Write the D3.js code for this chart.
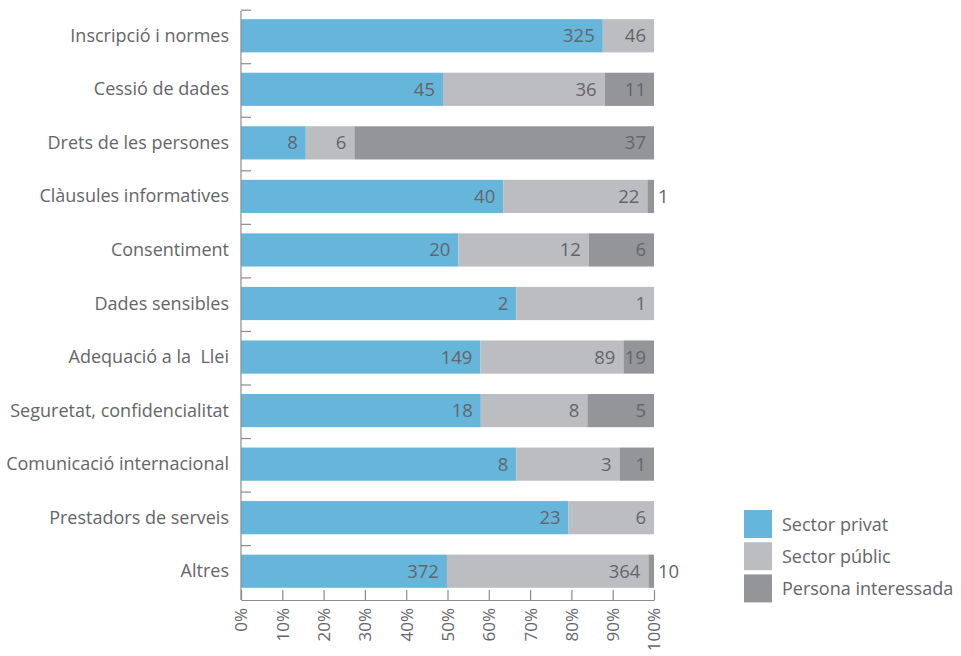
<!DOCTYPE html>
<html>
<head>
<meta charset="utf-8">
<script src="https://cdn.jsdelivr.net/npm/d3@7"></script>
<style>
  body { margin: 0; background: #fff; }
  text { font-family: "Open Sans", sans-serif; fill: #646569; }
</style>
</head>
<body>
<svg id="chart" width="961" height="656"></svg>
<script>
var categories = [
  "Inscripció i normes", "Cessió de dades", "Drets de les persones",
  "Clàusules informatives", "Consentiment", "Dades sensibles",
  "Adequació a la  Llei", "Seguretat, confidencialitat",
  "Comunicació internacional", "Prestadors de serveis", "Altres"
];
var privat = [325, 45, 8, 40, 20, 2, 149, 18, 8, 23, 372];
var public_ = [46, 36, 6, 22, 12, 1, 89, 8, 3, 6, 364];
var interessada = [0, 11, 37, 1, 6, 0, 19, 5, 1, 0, 10];
var seriesNames = ["Sector privat", "Sector públic", "Persona interessada"];
var seriesColors = ["#66b6dc", "#bcbdc1", "#939598"];
var tickValues = [0, 10, 20, 30, 40, 50, 60, 70, 80, 90, 100];

var svg = d3.select("#chart");
var plotLeft = 241, plotRight = 654, plotTop = 11, plotBottom = 600;

var x = d3.scaleLinear().domain([0, 100]).range([plotLeft, plotRight]);
var y = d3.scaleBand().domain(categories).range([plotTop - 2, plotBottom - 2])
  .paddingInner(0.38).paddingOuter(0.19);

var rows = categories.map(function(c, i) {
  return { cat: c, privat: privat[i], public_: public_[i], interessada: interessada[i] };
});
var keys = ["privat", "public_", "interessada"];
var stack = d3.stack().keys(keys).offset(d3.stackOffsetExpand);
var layers = stack(rows);

var g = svg.append("g");
layers.forEach(function(layer, li) {
  var lg = g.append("g");
  lg.selectAll("rect").data(layer).enter().append("rect")
    .attr("x", function(d) { return x(d[0] * 100); })
    .attr("width", function(d) { return x(d[1] * 100) - x(d[0] * 100); })
    .attr("y", function(d) { return y(d.data.cat); })
    .attr("height", y.bandwidth())
    .attr("fill", seriesColors[li]);
  lg.selectAll("text").data(layer.filter(function(d) { return d.data[layer.key] > 0; }))
    .enter().append("text")
    .attr("y", function(d) { return y(d.data.cat) + y.bandwidth() / 2 + 6.5; })
    .attr("font-size", 18.5)
    .each(function(d) {
      var w = x(d[1] * 100) - x(d[0] * 100);
      var t = d3.select(this).text(d.data[layer.key]);
      if (w < 22) {
        t.attr("x", x(d[1] * 100) + 4).attr("text-anchor", "start");
      } else {
        t.attr("x", x(d[1] * 100) - 8).attr("text-anchor", "end");
      }
    });
});

// y axis
var yAxis = svg.append("g");
yAxis.append("line").attr("x1", plotLeft).attr("x2", plotLeft).attr("y1", plotTop).attr("y2", plotBottom)
  .attr("stroke", "#8a8b8e").attr("stroke-width", 1.2);
var bounds = categories.map(function(c) { return y(c) - 9; });
yAxis.selectAll("line.tk").data(bounds).enter().append("line").attr("class", "tk")
  .attr("x1", plotLeft).attr("x2", plotLeft + 10)
  .attr("y1", function(d) { return d; }).attr("y2", function(d) { return d; })
  .attr("stroke", "#8a8b8e").attr("stroke-width", 1.2);
yAxis.selectAll("text").data(categories).enter().append("text")
  .attr("x", 229)
  .attr("y", function(c) { return y(c) + y.bandwidth() / 2 + 6; })
  .attr("text-anchor", "end")
  .attr("font-size", 18)
  .style("white-space", "pre")
  .text(function(c) { return c; });

// x axis
var xAxis = svg.append("g").attr("transform", "translate(0," + plotBottom + ")")
  .call(d3.axisBottom(x).tickValues(tickValues).tickSizeInner(-10).tickSizeOuter(0)
    .tickFormat(function(d) { return d + "%"; }));
xAxis.select(".domain").attr("stroke", "#8a8b8e").attr("stroke-width", 1.2);
xAxis.selectAll(".tick line").attr("stroke", "#8a8b8e").attr("stroke-width", 1.2);
xAxis.selectAll(".tick text")
  .attr("transform", "rotate(-90)")
  .attr("x", -8).attr("y", 0).attr("dy", "0.35em")
  .attr("text-anchor", "end")
  .attr("font-size", 17)
  .attr("fill", "#646569")
  .style("font-family", "'Open Sans', sans-serif");

// legend
var legend = svg.append("g").attr("transform", "translate(744,510)");
seriesNames.forEach(function(n, i) {
  legend.append("rect").attr("x", 0).attr("y", i * 32.2).attr("width", 28).attr("height", 28)
    .attr("fill", seriesColors[i]);
  legend.append("text").attr("x", 38).attr("y", i * 32.2 + 21).attr("font-size", 18).text(n);
});
</script>
</body>
</html>
